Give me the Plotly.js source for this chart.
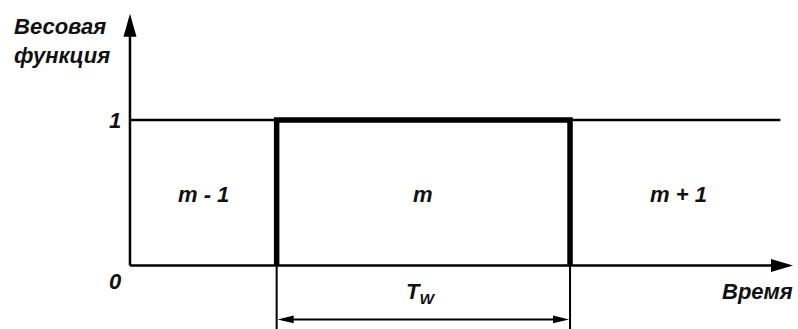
<!DOCTYPE html>
<html><head><meta charset="utf-8">
<script src="https://cdn.plot.ly/plotly-3.0.1.min.js"></script>
<style>html,body{margin:0;padding:0;background:#fff}#c{width:798px;height:329px}</style>
</head><body><div id="c"></div>
<script>
// Data (time in units of the window length T_W, weight 0..1)
const segmentLabels = ['m - 1', 'm', 'm + 1'];
const segmentCenters = [-0.25, 0.5, 1.37];
const segmentLevel = 0.49;
const windowX = [0, 0, 1, 1];
const windowY = [0, 1, 1, 0];
const levelX = [-0.5, 1.717];
const levelY = [1, 1];
const yTickVals = [0, 1];
const yTickText = ['0', '1'];
const axisOrigin = [-0.5, 0];
const xAxisEnd = 1.76;
const yAxisEnd = 1.73;
const dimY = -0.37;
const extBottom = -0.44;
const yTitle = 'Весовая<br>функция';
const xTitle = 'Время';
const dimLabel = 'T<sub>W</sub>';

const font = {family: 'Liberation Sans, Arial, sans-serif', size: 22, color: '#111', style: 'italic', weight: 'bold'};

const traces = [
  {x: levelX, y: levelY, mode: 'lines', line: {color: '#000', width: 2.5}},
  {x: [axisOrigin[0], xAxisEnd - 0.03], y: [axisOrigin[1], axisOrigin[1]], mode: 'lines', line: {color: '#000', width: 2.5}},
  {x: [axisOrigin[0], axisOrigin[0]], y: [axisOrigin[1], yAxisEnd - 0.05], mode: 'lines', line: {color: '#000', width: 2.5}},
  {x: windowX, y: windowY, mode: 'lines', line: {color: '#000', width: 5.5}},
  {x: [windowX[0], windowX[0]], y: [0, extBottom], mode: 'lines', line: {color: '#000', width: 2}},
  {x: [windowX[3], windowX[3]], y: [0, extBottom], mode: 'lines', line: {color: '#000', width: 2}},
  {x: [windowX[0] + 0.02, windowX[3] - 0.02], y: [dimY, dimY], mode: 'lines', line: {color: '#000', width: 2}}
];

// arrowheads: pixel-sized triangles anchored at axis/dimension ends
function head(xa, ya, path) {
  return {type: 'path', xref: 'x', yref: 'y', xsizemode: 'pixel', ysizemode: 'pixel', xanchor: xa, yanchor: ya,
          path: path, fillcolor: '#000', line: {width: 0}, layer: 'above'};
}
const shapes = [
  head(xAxisEnd, axisOrigin[1], 'M0,0L-22,-6.5L-22,6.5Z'),
  head(axisOrigin[0], yAxisEnd, 'M0,0L-6.5,-23L6.5,-23Z'),
  head(windowX[0], dimY, 'M1,0L17,-3.8L17,3.8Z'),
  head(windowX[3], dimY, 'M-1,0L-17,-3.8L-17,3.8Z')
];

const ann = [];
// segment labels
segmentLabels.forEach((t, i) => ann.push({x: segmentCenters[i], y: segmentLevel, xref: 'x', yref: 'y', text: t, showarrow: false, font: font}));
// y tick labels
yTickVals.forEach((v, i) => ann.push({x: -0.55, y: v === 0 ? -0.11 : v, xref: 'x', yref: 'y', text: yTickText[i], showarrow: false, font: font}));
ann.push({x: -0.73, y: 1.545, xref: 'x', yref: 'y', text: yTitle, showarrow: false, font: font, align: 'left'});
ann.push({x: 1.64, y: -0.18, xref: 'x', yref: 'y', text: xTitle, showarrow: false, font: font});
ann.push({x: 0.49, y: -0.19, xref: 'x', yref: 'y', text: dimLabel, showarrow: false, font: font});

const layout = {
  width: 798, height: 329, margin: {l: 0, r: 0, t: 0, b: 0},
  paper_bgcolor: '#fff', plot_bgcolor: '#fff', showlegend: false,
  xaxis: {range: [-0.943, 1.777], visible: false, fixedrange: true},
  yaxis: {range: [-0.436, 1.825], visible: false, fixedrange: true},
  annotations: ann, shapes: shapes
};
Plotly.newPlot('c', traces, layout, {staticPlot: true});
</script></body></html>
